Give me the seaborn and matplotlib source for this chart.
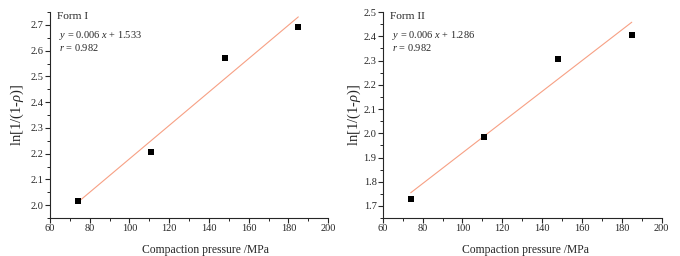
import numpy as np
import pandas as pd
import seaborn as sns
import matplotlib.pyplot as plt
from matplotlib.ticker import MultipleLocator

# Dados
pressure = [74, 111, 148, 185]
form1_y = [2.015, 2.205, 2.573, 2.692]
form2_y = [1.730, 1.985, 2.305, 2.405]

panels = [
    ("Form I", form1_y, "$y$ = 0.006 $x$ + 1.533", "$r$ = 0.982", (1.95, 2.75), np.arange(2.0, 2.71, 0.1)),
    ("Form II", form2_y, "$y$ = 0.006 $x$ + 1.286", "$r$ = 0.982", (1.65, 2.5), np.arange(1.7, 2.51, 0.1)),
]

sns.set_style("ticks")
plt.rcParams['font.family'] = ['Liberation Serif', 'DejaVu Serif']
plt.rcParams['mathtext.fontset'] = 'custom'
plt.rcParams['mathtext.rm'] = 'Liberation Serif'
plt.rcParams['mathtext.it'] = 'Liberation Serif:italic'

fig = plt.figure(figsize=(6.8, 2.56), dpi=100)
positions = [[0.0735, 0.148, 0.409, 0.805], [0.563, 0.148, 0.41, 0.805]]
xlabel_x = [0.56, 0.51]
ylabel_pad = [3.5, 0.5]

for i, (pos, (name, yvals, eq, rtxt, ylim, yticks)) in enumerate(zip(positions, panels)):
    ax = fig.add_axes(pos)
    df = pd.DataFrame({'Pressure': pressure, 'Value': yvals})

    # Linha de regressão linear
    sns.regplot(x='Pressure', y='Value', data=df, ci=None, scatter=False,
                line_kws={'color': '#f7a084', 'lw': 0.8}, ax=ax)
    # Pontos experimentais
    sns.scatterplot(x='Pressure', y='Value', data=df, marker='s', s=22,
                    color='black', edgecolor='black', linewidth=0, ax=ax, zorder=3)

    ax.set_xlim(60, 200)
    ax.set_ylim(*ylim)
    ax.set_xticks(np.arange(60, 201, 20))
    ax.set_yticks(yticks)
    ax.yaxis.set_major_formatter(plt.FormatStrFormatter('%.1f'))
    ax.xaxis.set_minor_locator(MultipleLocator(10))
    ax.yaxis.set_minor_locator(MultipleLocator(0.05))
    ax.tick_params(which='major', direction='out', length=3.5, width=0.8, labelsize=7.5, pad=1)
    ax.tick_params(which='minor', direction='out', length=2, width=0.7)
    sns.despine(ax=ax)
    for s in ['left', 'bottom']:
        ax.spines[s].set_linewidth(0.8)

    ax.set_xlabel('Compaction pressure /MPa', fontsize=8.4)
    ax.xaxis.set_label_coords(xlabel_x[i], -0.125)
    ax.set_ylabel(r'ln[1/(1-$\rho$)]', fontsize=10.5, labelpad=ylabel_pad[i])

    ax.text(0.025, 1.0, name, transform=ax.transAxes, fontsize=8.2, va='top', ha='left')
    ax.text(0.033, 0.92, eq, transform=ax.transAxes, fontsize=7.5, va='top', ha='left')
    ax.text(0.033, 0.853, rtxt, transform=ax.transAxes, fontsize=7.5, va='top', ha='left')

plt.savefig('out.png', dpi=100)
